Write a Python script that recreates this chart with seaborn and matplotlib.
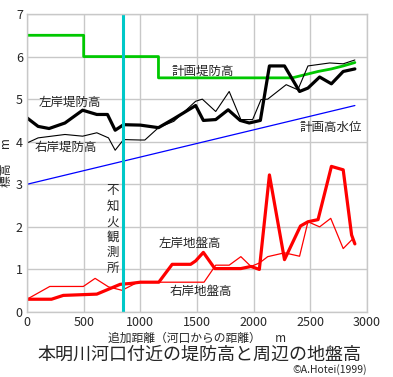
import numpy as np
import pandas as pd
import seaborn as sns
import matplotlib
matplotlib.use("Agg")
from matplotlib import pyplot as plt

# 堤防高 (m)
left_levee_x = [0, 98, 195, 335, 491, 616, 710, 778, 852, 1000, 1160, 1296, 1488, 1556,
                1665, 1775, 1881, 1961, 2059, 2139, 2272, 2405, 2479, 2582, 2686, 2790, 2893]
left_levee_y = [4.56, 4.36, 4.31, 4.44, 4.74, 4.64, 4.64, 4.27, 4.40, 4.39, 4.33, 4.54, 4.85, 4.50,
                4.52, 4.75, 4.50, 4.44, 4.50, 5.78, 5.78, 5.18, 5.26, 5.52, 5.36, 5.65, 5.71]

right_levee_x = [0, 98, 335, 491, 616, 719, 778, 852, 1000, 1040, 1160, 1296, 1488, 1547,
                 1665, 1784, 1887, 1991, 2065, 2124, 2287, 2390, 2479, 2671, 2790, 2893]
right_levee_y = [3.97, 4.09, 4.17, 4.13, 4.21, 4.09, 3.80, 4.05, 4.04, 4.04, 4.33, 4.48, 4.95, 5.00,
                 4.71, 5.18, 4.52, 4.52, 4.99, 5.00, 5.34, 5.22, 5.78, 5.85, 5.83, 5.92]

plan_levee_x = [0, 500, 500, 1160, 1160, 2340, 2568, 2686, 2790, 2893]
plan_levee_y = [6.5, 6.5, 6.0, 6.0, 5.5, 5.5, 5.65, 5.71, 5.78, 5.86]

plan_water_x = [0, 2893]
plan_water_y = [3.0, 4.85]

# 地盤高 (m)
left_ground_x = [0, 216, 320, 616, 822, 911, 1000, 1163, 1281, 1444, 1488, 1556, 1657, 1887,
                 1976, 2050, 2139, 2272, 2413, 2479, 2568, 2686, 2790, 2864, 2893]
left_ground_y = [0.30, 0.30, 0.39, 0.42, 0.65, 0.67, 0.70, 0.70, 1.12, 1.12, 1.20, 1.40, 1.02, 1.02,
                 1.07, 1.00, 3.22, 1.23, 2.02, 2.12, 2.17, 3.42, 3.34, 1.81, 1.60]

right_ground_x = [0, 201, 497, 601, 719, 838, 971, 1000, 1562, 1665, 1784, 1887, 1976, 2050,
                  2124, 2272, 2405, 2479, 2582, 2680, 2790, 2879]
right_ground_y = [0.30, 0.60, 0.60, 0.79, 0.59, 0.51, 0.69, 0.70, 0.70, 1.10, 1.10, 1.30, 1.07, 1.15,
                  1.30, 1.39, 1.31, 2.12, 2.00, 2.20, 1.49, 1.73]

station_x = 850

sns.set_style("white")
plt.rcParams['font.family'] = ['Noto Sans CJK JP', 'DejaVu Sans']

fig = plt.figure(figsize=(3.93, 3.77), dpi=100)
ax = fig.add_axes([27 / 393, 65 / 377, 340 / 393, 298 / 377])

def draw(x, y, color, lw):
    df = pd.DataFrame({"x": x, "y": y})
    sns.lineplot(data=df, x="x", y="y", ax=ax, color=color, linewidth=lw,
                 sort=False, estimator=None)

draw(plan_levee_x, plan_levee_y, "#00c800", 2.0)
draw(plan_water_x, plan_water_y, "#0000ff", 0.9)
draw(right_levee_x, right_levee_y, "black", 0.8)
draw(left_levee_x, left_levee_y, "black", 2.3)
draw(right_ground_x, right_ground_y, "#ff0000", 0.9)
draw(left_ground_x, left_ground_y, "#ff0000", 2.3)
ax.axvline(station_x, color="#00c8c8", linewidth=2.2)

ax.set_xlim(0, 3000)
ax.set_ylim(0, 7)
ax.set_xticks(np.arange(0, 3001, 500))
ax.set_yticks(np.arange(0, 8, 1))
ax.grid(True, color="#c8c8c8", linewidth=1.0)
ax.set_axisbelow(True)
for s in ax.spines.values():
    s.set_color("#c8c8c8")
    s.set_linewidth(1.0)
ax.tick_params(length=0, labelsize=9, pad=3)

ax.set_xlabel("追加距離（河口からの距離）　 m", fontsize=8.5, labelpad=2)
ax.set_ylabel("標高　 m", fontsize=8.5, labelpad=2)

lab = dict(fontsize=9, ha="center", va="center")
ax.text(380, 4.92, "左岸堤防高", **lab)
ax.text(345, 3.88, "右岸堤防高", **lab)
ax.text(1550, 5.66, "計画堤防高", **lab)
ax.text(2680, 4.34, "計画高水位", **lab)
ax.text(1435, 1.6, "左岸地盤高", **lab)
ax.text(1530, 0.48, "右岸地盤高", **lab)
ax.text(755, 3.0, "不\n知\n火\n観\n測\n所", fontsize=9, ha="center", va="top",
        linespacing=1.25)

fig.text(199 / 393, 1 - 355 / 377, "本明川河口付近の堤防高と周辺の地盤高",
         fontsize=13, ha="center", va="center")
fig.text(367 / 393, 1 - 370 / 377, "©A.Hotei(1999)", fontsize=7.5, ha="right", va="center")

fig.savefig("out.png", dpi=100)
